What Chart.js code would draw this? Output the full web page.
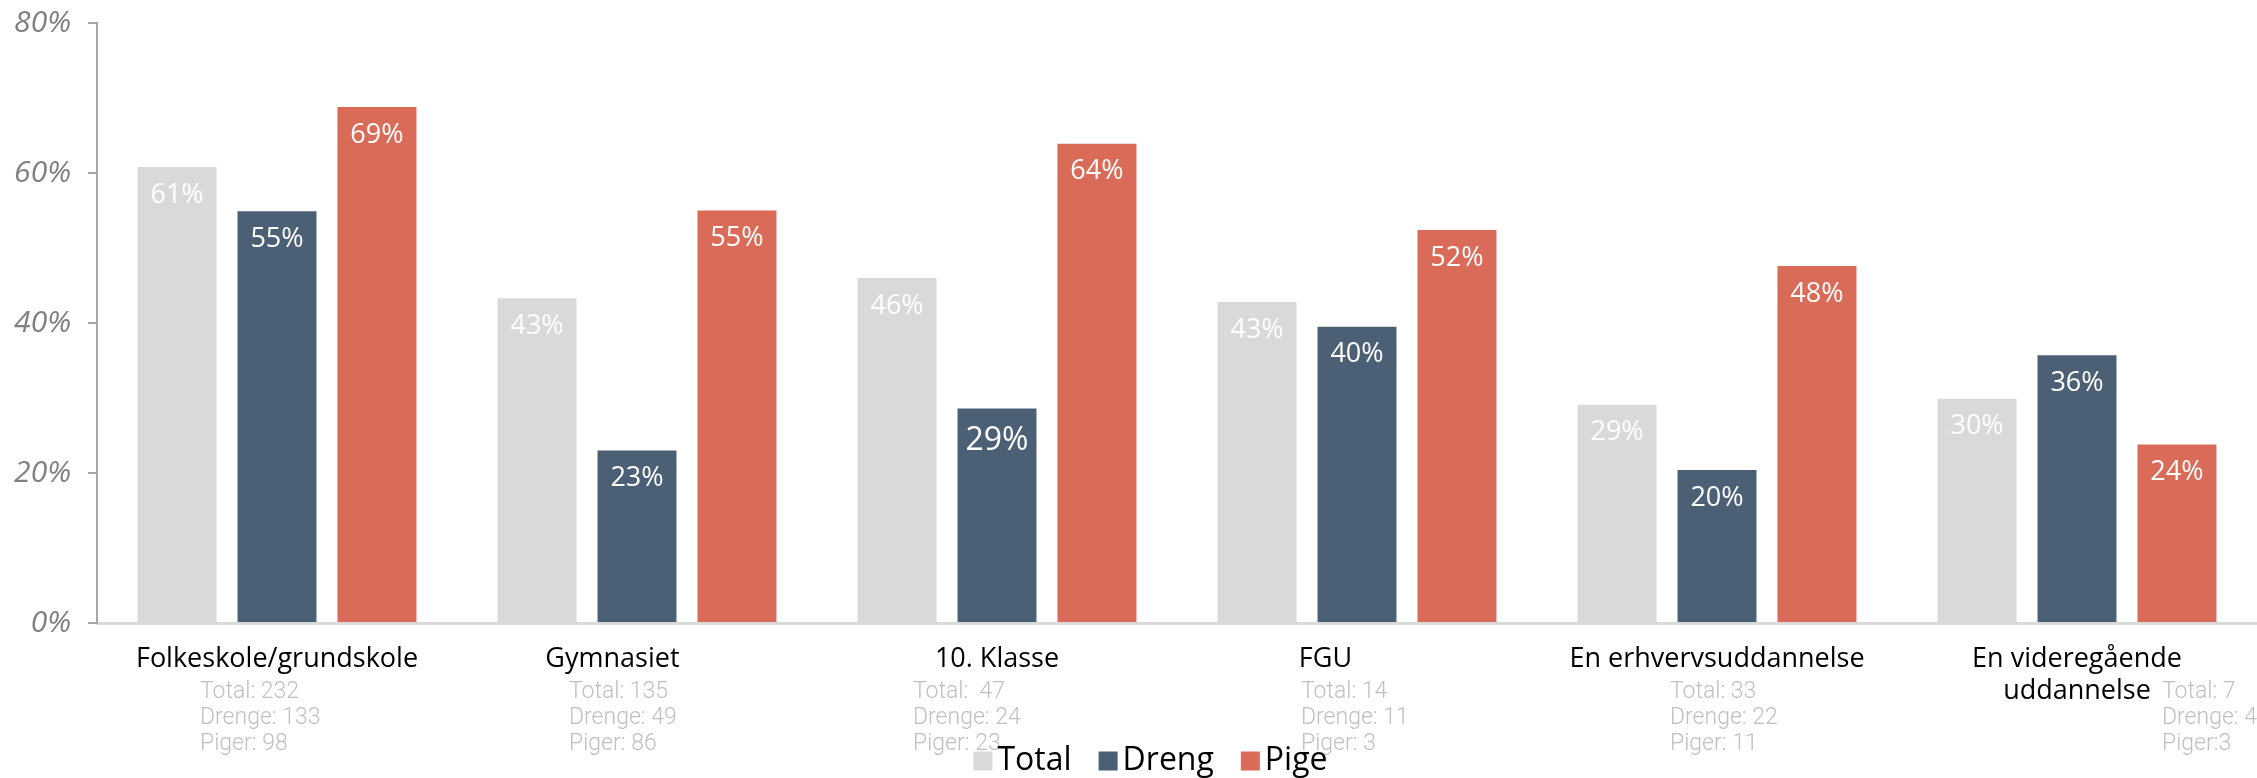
<!DOCTYPE html>
<html>
<head>
<meta charset="utf-8">
<script src="https://cdn.jsdelivr.net/npm/chart.js@4.4.0/dist/chart.umd.min.js"></script>
<style>
  body { margin: 0; background: #fff; }
  #wrap { width: 2257px; height: 778px; position: relative; }
</style>
</head>
<body>
<div id="wrap"><canvas id="myChart"></canvas></div>
<script>
// categories (trailing spaces kept as in the source labels)
const categories = [
    'Folkeskole/grundskole',
    'Gymnasiet       ',
    '10. Klasse',
    'FGU         ',
    'En erhvervsuddannelse',
    ['En videregående', 'uddannelse']
];

// share in percent
const total = [60.8, 43.3, 46.0, 42.8, 29.1, 29.9];
const dreng = [54.9, 23.0, 28.6, 39.5, 20.4, 35.7];
const pige  = [68.8, 55.0, 63.9, 52.4, 47.6, 23.8];

const yTicks = [0, 20, 40, 60, 80];

// counts written under each category
const noteTotal  = ['Total: 232', 'Total: 135', 'Total:  47', 'Total: 14', 'Total: 33', 'Total: 7'];
const noteDrenge = ['Drenge: 133', 'Drenge: 49', 'Drenge: 24', 'Drenge: 11', 'Drenge: 22', 'Drenge: 4'];
const notePiger  = ['Piger: 98', 'Piger: 86', 'Piger: 23', 'Piger: 3', 'Piger: 11', 'Piger:3'];

// where the count text boxes sit, relative to the category centre
const noteShift = [-77, -68, -84, -56, -47, 85];

const colors = {
    total: '#d9d9d9',
    dreng: '#4b6075',
    pige: '#da6b59'
};

// white percentage labels inside the bars
const barLabels = {
    id: 'barLabels',
    afterDatasetsDraw(chart) {
        const ctx = chart.ctx;
        ctx.save();
        ctx.fillStyle = '#ffffff';
        ctx.textAlign = 'center';
        ctx.textBaseline = 'middle';
        chart.data.datasets.forEach((ds, di) => {
            const meta = chart.getDatasetMeta(di);
            meta.data.forEach((bar, i) => {
                const big = (di === 1 && i === 2);
                ctx.font = (big ? 32 : 27) + 'px "Open Sans"';
                ctx.fillText(Math.round(ds.data[i]) + '%', bar.x, bar.y + (big ? 32 : 28));
            });
        });
        ctx.restore();
    }
};

// count notes and legend
const extras = {
    id: 'extras',
    afterDraw(chart) {
        const ctx = chart.ctx;
        const xs = chart.scales.x;
        const bottom = chart.chartArea.bottom;
        ctx.save();
        ctx.font = '300 23px Roboto';
        ctx.fillStyle = '#c0c0c0';
        ctx.textAlign = 'left';
        ctx.textBaseline = 'middle';
        categories.forEach((c, i) => {
            const x = xs.getPixelForValue(i) + noteShift[i];
            ctx.fillText(noteTotal[i], x, bottom + 69);
            ctx.fillText(noteDrenge[i], x, bottom + 95);
            ctx.fillText(notePiger[i], x, bottom + 121);
        });

        // legend
        ctx.font = '32px "Open Sans"';
        const box = 19, gapBox = 5, gapItem = 27;
        const items = chart.data.datasets.map(ds => ({ label: ds.label, color: ds.backgroundColor }));
        let w = 0;
        items.forEach((it, k) => {
            w += box + gapBox + ctx.measureText(it.label).width + (k < items.length - 1 ? gapItem : 0);
        });
        let x = chart.width / 2 + 22 - w / 2;
        const y = 760;
        items.forEach(it => {
            ctx.fillStyle = it.color;
            ctx.fillRect(x, y - box / 2 + 1, box, box);
            x += box + gapBox;
            ctx.fillStyle = '#000000';
            ctx.fillText(it.label, x, y + 1);
            x += ctx.measureText(it.label).width + gapItem;
        });
        ctx.restore();
    }
};

const ctx = document.getElementById('myChart');
const myChart = new Chart(ctx, {
    type: 'bar',
    data: {
        labels: categories,
        datasets: [
            {
                label: 'Total',
                data: total,
                backgroundColor: colors.total
            },
            {
                label: 'Dreng',
                data: dreng,
                backgroundColor: colors.dreng
            },
            {
                label: 'Pige',
                data: pige,
                backgroundColor: colors.pige
            }
        ]
    },
    options: {
        responsive: true,
        maintainAspectRatio: false,
        animation: false,
        datasets: {
            bar: {
                categoryPercentage: 0.833,
                barPercentage: 0.79
            }
        },
        layout: {
            padding: { top: 23, right: 0, bottom: 0, left: 0 }
        },
        plugins: {
            legend: { display: false },
            tooltip: { enabled: false }
        },
        scales: {
            x: {
                grid: { drawOnChartArea: false, drawTicks: false },
                border: { color: '#d9d9d9', width: 3 },
                ticks: {
                    color: '#000000',
                    font: { family: 'Open Sans', size: 27, lineHeight: 1.2 },
                    padding: 20,
                    maxRotation: 0,
                    autoSkip: false
                },
                afterFit(scale) { scale.height = 155; }
            },
            y: {
                min: yTicks[0],
                max: yTicks[yTicks.length - 1],
                grid: { drawOnChartArea: false, drawTicks: true, tickLength: 9, color: '#a6a6a6', lineWidth: 2 },
                border: { color: '#a6a6a6', width: 2 },
                ticks: {
                    stepSize: 20,
                    color: '#808080',
                    font: { family: 'Open Sans', size: 30, style: 'italic' },
                    padding: 17,
                    callback: v => v + '%'
                },
                afterFit(scale) {
                    scale.width = 97;
                    scale.paddingTop = 0;
                    scale.paddingBottom = 0;
                }
            }
        }
    },
    plugins: [barLabels, extras]
});
</script>
</body>
</html>
